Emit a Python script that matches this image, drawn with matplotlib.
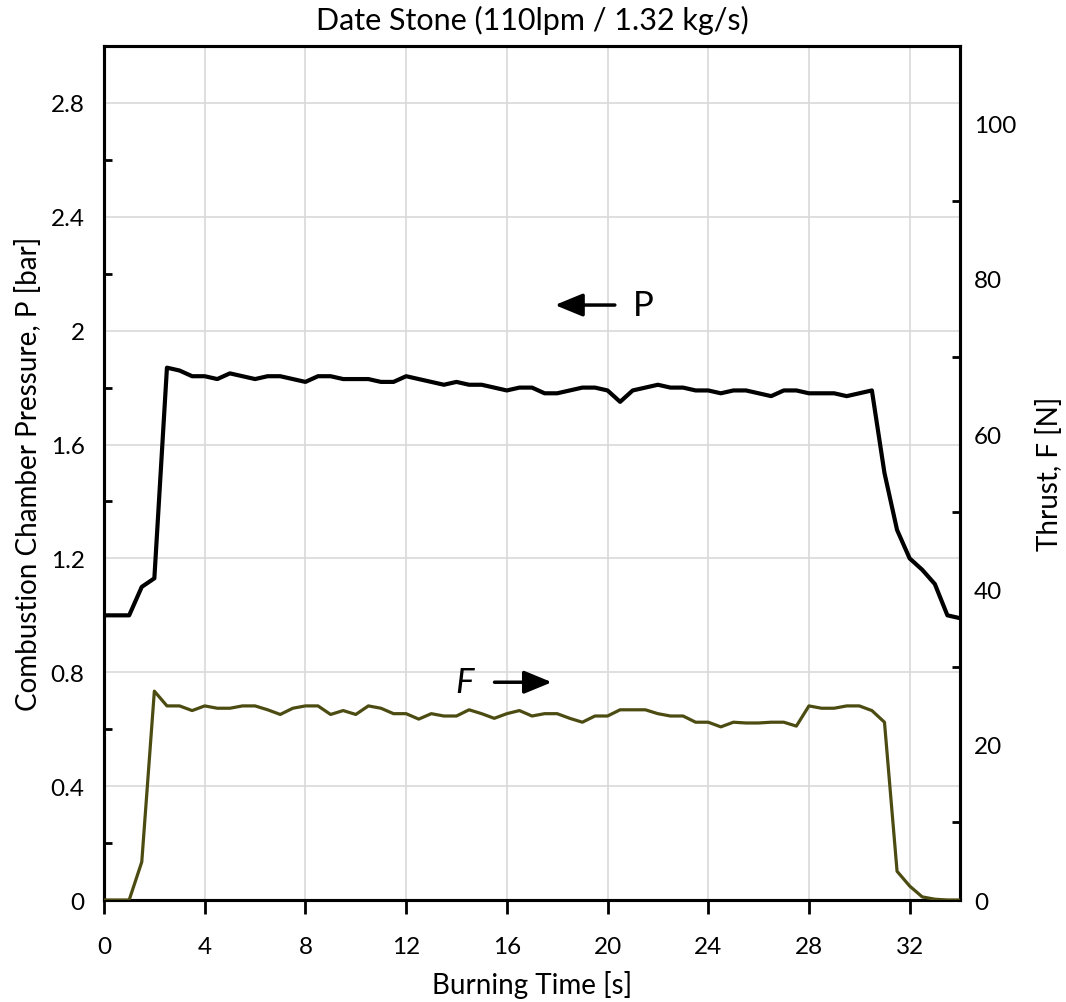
#!/usr/bin/env python3
"""Date Stone hybrid motor test: chamber pressure and thrust vs burning time."""
import matplotlib
matplotlib.use('Agg')
import matplotlib.pyplot as plt
from matplotlib.ticker import MultipleLocator

plt.rcParams['font.family'] = ['Lato', 'DejaVu Sans']

OLIVE = '#4b4b12'
GRID = '#d9d9d9'

# burning time, 0.5 s sampling
t = [i * 0.5 for i in range(69)]

# combustion chamber pressure [bar]
p = [1.00, 1.00, 1.00, 1.10, 1.13, 1.87, 1.86, 1.84, 1.84, 1.83,
     1.85, 1.84, 1.83, 1.84, 1.84, 1.83, 1.82, 1.84, 1.84, 1.83,
     1.83, 1.83, 1.82, 1.82, 1.84, 1.83, 1.82, 1.81, 1.82, 1.81,
     1.81, 1.80, 1.79, 1.80, 1.80, 1.78, 1.78, 1.79, 1.80, 1.80,
     1.79, 1.75, 1.79, 1.80, 1.81, 1.80, 1.80, 1.79, 1.79, 1.78,
     1.79, 1.79, 1.78, 1.77, 1.79, 1.79, 1.78, 1.78, 1.78, 1.77,
     1.78, 1.79, 1.50, 1.30, 1.20, 1.16, 1.11, 1.00, 0.99]

# thrust [N]
f = [0.0, 0.0, 0.0, 4.9, 26.9, 25.0, 25.0, 24.4, 25.0, 24.7,
     24.7, 25.0, 25.0, 24.5, 23.9, 24.7, 25.0, 25.0, 23.9, 24.4,
     23.9, 25.0, 24.7, 24.0, 24.0, 23.3, 24.0, 23.7, 23.7, 24.5,
     24.0, 23.4, 24.0, 24.4, 23.7, 24.0, 24.0, 23.4, 22.9, 23.7,
     23.7, 24.5, 24.5, 24.5, 24.0, 23.7, 23.7, 22.9, 22.9, 22.3,
     22.9, 22.8, 22.8, 22.9, 22.9, 22.4, 25.0, 24.7, 24.7, 25.0,
     25.0, 24.4, 22.9, 3.7, 1.8, 0.4, 0.1, 0.0, 0.0]

p_ticks = [0, 0.4, 0.8, 1.2, 1.6, 2.0, 2.4, 2.8]
p_labels = ['0', '0.4', '0.8', '1.2', '1.6', '2', '2.4', '2.8']

fig = plt.figure(figsize=(10.66, 10.03), dpi=100)
ax = fig.add_axes([104 / 1066, 1 - 901 / 1003, 856 / 1066, 854 / 1003])
ax2 = ax.twinx()

ax.plot(t, p, color='black', lw=3, zorder=3)
ax2.plot(t, f, color=OLIVE, lw=2.3, zorder=3)

ax.set_xlim(0, 34)
ax.set_ylim(0, 3.0)
ax2.set_ylim(0, 110)

ax.xaxis.set_major_locator(MultipleLocator(4))
ax.set_yticks(p_ticks)
ax.set_yticklabels(p_labels)
ax.yaxis.set_minor_locator(MultipleLocator(0.2))
ax2.yaxis.set_major_locator(MultipleLocator(20))
ax2.yaxis.set_minor_locator(MultipleLocator(10))

ax.grid(True, color=GRID, lw=1.2)
ax.set_axisbelow(True)

ax.tick_params(axis='x', direction='out', length=10, width=2, labelsize=17.5, pad=16)
ax.tick_params(axis='y', which='major', length=0, labelsize=17.5, pad=14)
ax.tick_params(axis='y', which='minor', direction='in', length=6, width=2)
ax2.tick_params(axis='y', which='major', length=0, labelsize=17.5, pad=10)
ax2.tick_params(axis='y', which='minor', direction='in', length=6, width=2)

for a in (ax, ax2):
    for s in a.spines.values():
        s.set_linewidth(2.2)
        s.set_color('black')

ax.set_xlabel('Burning Time [s]', fontsize=20, labelpad=9)
ax.set_ylabel('Combustion Chamber Pressure, P [bar]', fontsize=20, labelpad=6)
ax2.set_ylabel('Thrust, F [N]', fontsize=20, labelpad=14)
ax.set_title('Date Stone (110lpm / 1.32 kg/s)', fontsize=22, pad=12)

arrow = dict(arrowstyle='-|>,head_length=1.7,head_width=0.7', color='black', lw=2.5)
ax.annotate('', xy=(17.8, 2.09), xytext=(20.4, 2.09), arrowprops=arrow)
ax.text(21.4, 2.09, 'P', fontsize=25, ha='center', va='center')
ax.annotate('', xy=(17.9, 0.765), xytext=(15.4, 0.765), arrowprops=arrow)
ax.text(14.3, 0.765, 'F', fontsize=25, style='italic', ha='center', va='center')

fig.savefig('out.png')
